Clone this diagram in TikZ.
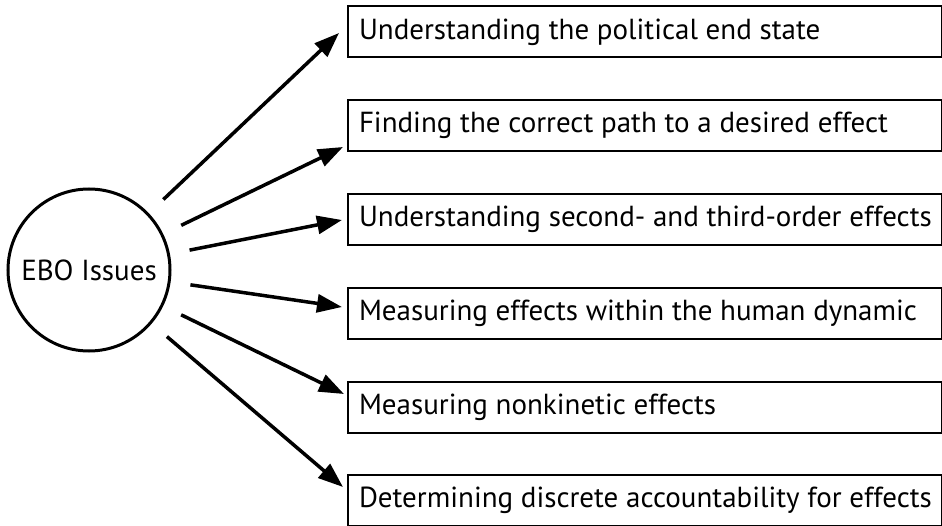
\documentclass[tikz,border=0pt]{standalone}
\usepackage{fontspec}
\setmainfont{PT Sans}
\usetikzlibrary{arrows.meta}
\newcommand{\issuetext}[1]{\makebox[572pt][l]{#1}}
\begin{document}
\begin{tikzpicture}[x=1pt,y=-1pt,
  issue/.style={draw, line width=2pt, anchor=west, minimum height=51pt,
    minimum width=594pt, inner xsep=10pt,
    font=\fontsize{29}{34}\selectfont},
  hub/.style={draw, circle, line width=3pt, minimum size=162pt, inner sep=0pt,
    font=\fontsize{29}{34}\selectfont},
  link/.style={line width=3.5pt, shorten <=20pt,
    -{Triangle[length=25pt,width=18pt]}}]
\useasboundingbox (0,0) rectangle (942,526);

\node[hub] (ebo) at (89,270) {EBO Issues};

\node[issue] (b1) at (347,32)    {\issuetext{Understanding the political end state}};
\node[issue] (b2) at (347,125.5) {\issuetext{Finding the correct path to a desired effect}};
\node[issue] (b3) at (347,219.5) {\issuetext{Understanding second- and third-order effects}};
\node[issue] (b4) at (347,313.5) {\issuetext{Measuring effects within the human dynamic}};
\node[issue] (b5) at (347,407)   {\issuetext{Measuring nonkinetic effects}};
\node[issue] (b6) at (347,500.5) {\issuetext{Determining discrete accountability for effects}};

\draw[link] (ebo) -- ([shift={(-8,1)}]b1.west);
\draw[link] (ebo) -- ([shift={(-4,21.5)}]b2.west);
\draw[link] (ebo) -- ([shift={(-5,0.5)}]b3.west);
\draw[link] (ebo) -- ([shift={(-5,-6.5)}]b4.west);
\draw[link] (ebo) -- ([shift={(-3,-13)}]b5.west);
\draw[link] (ebo) -- ([shift={(-4,-13.5)}]b6.west);
\end{tikzpicture}
\end{document}
